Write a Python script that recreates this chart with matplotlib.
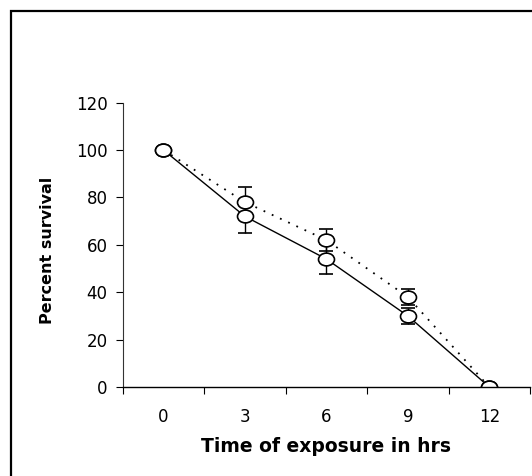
import matplotlib
matplotlib.use("Agg")
import matplotlib.pyplot as plt
from matplotlib.patches import Rectangle
from matplotlib.path import Path
from matplotlib.transforms import Affine2D

plt.rcParams["font.family"] = ["DejaVu Sans"]

# Data
hours = ["0", "3", "6", "9", "12"]
survival_a = [100, 72, 54, 30, 0]      # solid line
error_a = [0, 7, 6.5, 3.5, 0]
survival_b = [100, 78, 62, 38, 0]      # dotted line
error_b = [0, 6.5, 4.5, 3.5, 0]

W, H = 532, 476
fig = plt.figure(figsize=(W / 100, H / 100), dpi=100)
ax = fig.add_axes([122.7 / W, 1 - 387 / H, (530 - 122.7) / W, (387 - 102.6) / H])

# outer frame (only left/top visible in reference)
fig.patches.append(Rectangle((11 / W, -0.1), 1.2, 1.1 - 11 / H,
                             transform=fig.transFigure, fill=False,
                             edgecolor="black", linewidth=1.6))

# slightly wide circle, as in the (stretched) original
ellipse = Path.unit_circle().transformed(Affine2D().scale(1.25, 1.0))

x = list(range(len(hours)))
common = dict(color="black", marker=ellipse, markersize=11.5, markerfacecolor="white",
              markeredgecolor="black", markeredgewidth=1.2, ecolor="black",
              elinewidth=1.0, capsize=5, capthick=1.0)
ax.errorbar(x, survival_b, yerr=error_b, linestyle=(0, (1, 4)), linewidth=1.3, **common)
ax.errorbar(x, survival_a, yerr=error_a, linestyle="-", linewidth=1.0, **common)

ax.set_xlim(-0.5, len(hours) - 0.5)
ax.set_ylim(0, 120)
ax.set_yticks(range(0, 121, 20))
ax.set_xticks([i - 0.5 for i in range(len(hours) + 1)])
ax.set_xticklabels([])
ax.set_xticks(x, minor=True)
ax.set_xticklabels(hours, minor=True)
ax.tick_params(axis="x", which="minor", length=0, pad=15, labelsize=12)
ax.tick_params(axis="x", which="major", length=5, width=0.8)
ax.tick_params(axis="y", length=5, width=0.8, labelsize=12, pad=6)

for s in ["top", "right"]:
    ax.spines[s].set_visible(False)
ax.spines["left"].set_color("#333333")
ax.spines["left"].set_linewidth(0.8)
ax.spines["bottom"].set_linewidth(1.0)
ax.patch.set_alpha(0)

ax.set_xlabel("Time of exposure in hrs", fontsize=13.5, fontweight="bold", labelpad=8)
ax.set_ylabel("Percent survival", fontsize=11.5, fontweight="bold", labelpad=14)
ax.yaxis.set_label_coords(-0.165, 0.48)

fig.savefig("out.png", dpi=100)
